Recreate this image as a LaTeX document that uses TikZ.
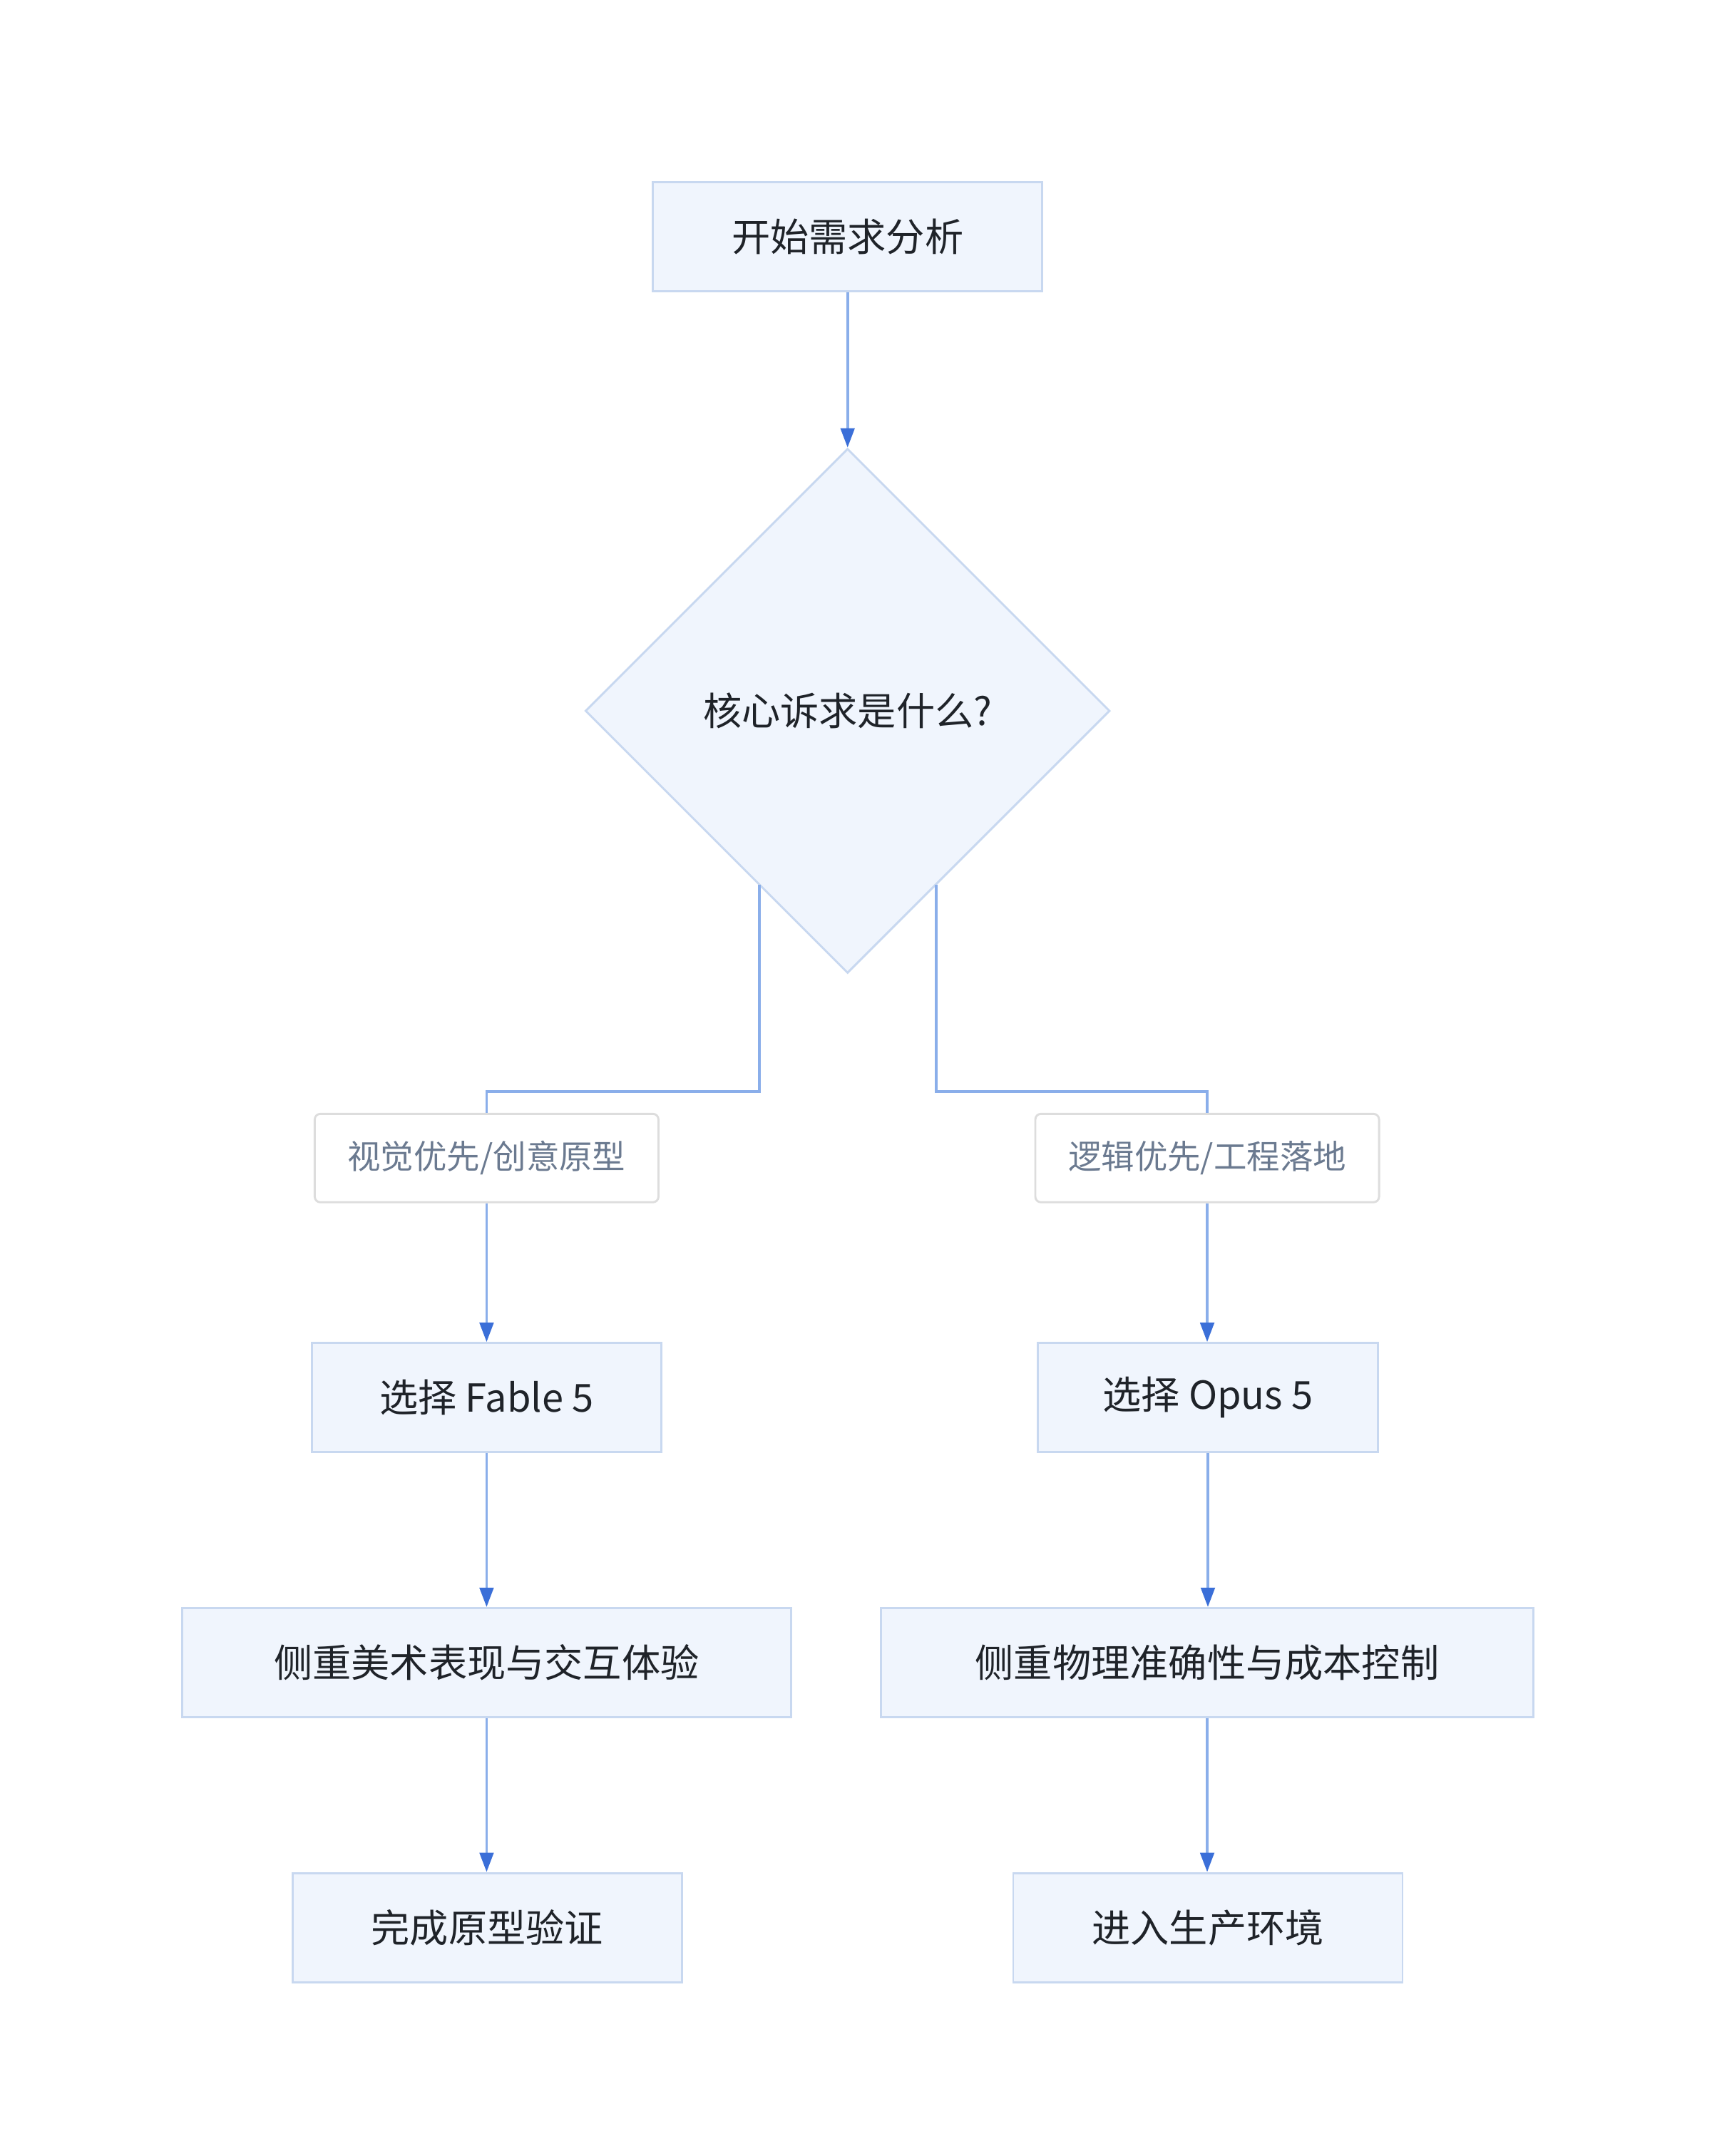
\documentclass[tikz,border=0pt]{standalone}
\usepackage{fontspec}
\setmainfont{Noto Sans CJK SC}
\usetikzlibrary{shapes.geometric,arrows.meta}
\definecolor{boxfill}{HTML}{F0F5FD}
\definecolor{boxline}{HTML}{C8D8F0}
\definecolor{edge}{HTML}{8AAEEA}
\definecolor{tip}{HTML}{3B6FD8}
\definecolor{lblline}{HTML}{DDDDDD}
\definecolor{lbltext}{HTML}{6B7A90}
\definecolor{txt}{HTML}{1F2329}
\begin{document}
\begin{tikzpicture}[x=1pt,y=-1pt,
  box/.style={draw=boxline,fill=boxfill,line width=1.5pt,text=txt,font=\fontsize{28}{32}\selectfont,minimum height=79pt,inner sep=0pt},
  lbl/.style={draw=lblline,fill=white,line width=1.5pt,rounded corners=4pt,text=lbltext,font=\fontsize{24}{28}\selectfont,minimum height=64pt,minimum width=249pt,inner sep=0pt},
  con/.style={draw=edge,line width=2pt},
  arr/.style={con,-{Triangle[length=14pt,width=10pt,color=tip]}}]
\useasboundingbox[fill=white] (0,0) rectangle (1240,1562);
\node[box,minimum width=282pt] (start) at (614,171.5) {开始需求分析};
\node[draw=boxline,fill=boxfill,line width=1.5pt,diamond,minimum width=380pt,minimum height=380pt,inner sep=0pt,text=txt,font=\fontsize{28}{32}\selectfont] (dec) at (614,515) {核心诉求是什么?};
\node[lbl] (l1) at (352.5,839) {视觉优先/创意原型};
\node[lbl] (l2) at (874.5,839) {逻辑优先/工程落地};
\node[box,minimum width=253pt] (fable) at (352.5,1012.5) {选择 Fable 5};
\node[box,minimum width=246pt] (opus) at (875,1012.5) {选择 Opus 5};
\node[box,minimum width=441pt] (art) at (352.5,1204.5) {侧重美术表现与交互体验};
\node[box,minimum width=473pt] (phy) at (874.5,1204.5) {侧重物理准确性与成本控制};
\node[box,minimum width=282pt] (proto) at (353,1396.5) {完成原型验证};
\node[box,minimum width=282pt] (prod) at (875,1396.5) {进入生产环境};
\coordinate (dl) at (550,641);
\coordinate (dr) at (678,641);
\draw[arr] (start) -- (dec.north);
\draw[con] (dl) -- (550,791) -| (l1.north);
\draw[con] (dr) -- (678,791) -| (l2.north);
\draw[arr] (l1) -- (fable);
\draw[arr] (l2) -- (l2 |- opus.north);
\draw[arr] (fable) -- (art);
\draw[arr] (opus) -- (opus |- phy.north);
\draw[arr] (art) -- (art |- proto.north);
\draw[arr] (phy) -- (phy |- prod.north);
\end{tikzpicture}
\end{document}
